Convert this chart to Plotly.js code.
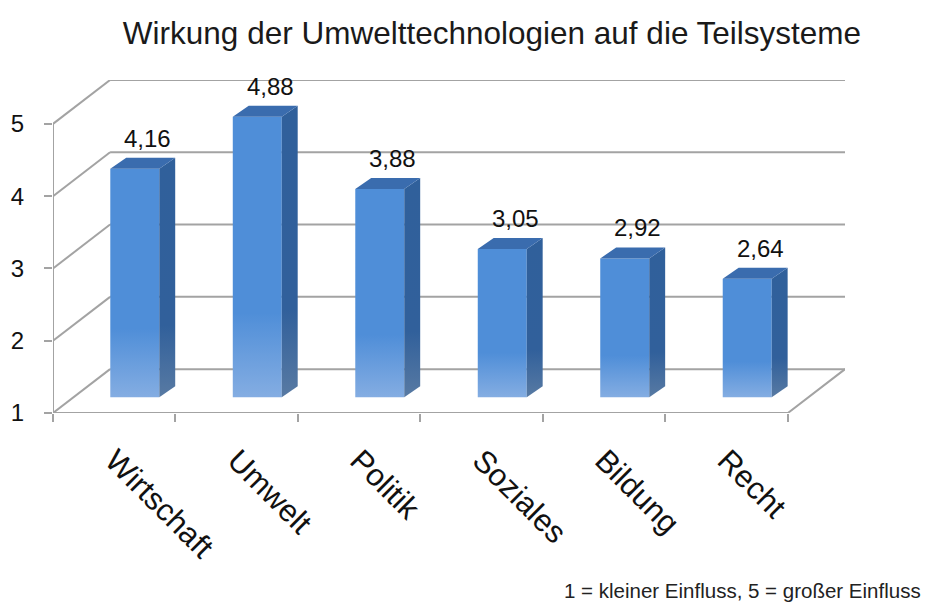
<!DOCTYPE html>
<html>
<head>
<meta charset="utf-8">
<script src="https://cdn.plot.ly/plotly-3.0.1.min.js"></script>
<style>html,body{margin:0;padding:0;background:#fff;}#chart{width:934px;height:604px;}</style>
</head>
<body>
<div id="chart"></div>
<script>
// ---- data ----
const categories = ["Wirtschaft", "Umwelt", "Politik", "Soziales", "Bildung", "Recht"];
const values = [4.16, 4.88, 3.88, 3.05, 2.92, 2.64];
const yTicks = [1, 2, 3, 4, 5];
const titleText = "Wirkung der Umwelttechnologien auf die Teilsysteme";
const noteText = "1 = kleiner Einfluss, 5 = großer Einfluss";

// ---- 3D projection settings (in axis units) ----
const WALL_DX = 0.466, WALL_DY = 0.607;   // depth of the whole chart box
const BAR_F = 0.36;                        // depth position of bar front face
const BAR_W = 0.40;                        // bar front width
const BAR_DX = 0.13, BAR_DY = 0.152;       // bar depth
const YMIN = 1, YMAX = 5;
const FONT = "Liberation Sans, Arial, sans-serif";
const gridColor = "#a3a3a3";

const traces = [];
// grid: back wall, left wall, floor
const gx = [], gy = [];
yTicks.forEach(v => {
  gx.push(WALL_DX, categories.length + WALL_DX, null);
  gy.push(v + WALL_DY, v + WALL_DY, null);
  gx.push(0, WALL_DX, null);
  gy.push(v, v + WALL_DY, null);
});
// floor front and right edge, front vertical axis
gx.push(0, categories.length, categories.length + WALL_DX, null, 0, 0);
gy.push(YMIN, YMIN, YMIN + WALL_DY, null, YMIN, YMAX);
traces.push({type: "scatter", mode: "lines", x: gx, y: gy, hoverinfo: "skip",
  line: {color: gridColor, width: 2}, showlegend: false});

// bars
const offX = BAR_F * WALL_DX, offY = BAR_F * WALL_DY;
const topX = [], topY = [];
const annotations = [];
values.forEach((v, i) => {
  const cx = i + 0.5 + offX;
  const xl = cx - BAR_W / 2, xr = cx + BAR_W / 2;
  const yb = YMIN + offY, yt = v + offY;
  // front face with gradient
  traces.push({type: "scatter", mode: "lines", x: [xl, xr, xr, xl, xl], y: [yb, yb, yt, yt, yb],
    fill: "toself", line: {width: 0, color: "rgba(0,0,0,0)"}, hoverinfo: "skip", showlegend: false,
    fillgradient: {type: "vertical", start: yb, stop: yt,
      colorscale: [[0, "#84ade2"], [0.3, "#4f8ed8"], [1, "#4f8ed8"]]}});
  // side face
  traces.push({type: "scatter", mode: "lines",
    x: [xr, xr + BAR_DX, xr + BAR_DX, xr, xr], y: [yb, yb + BAR_DY, yt + BAR_DY, yt, yb],
    fill: "toself", line: {width: 0, color: "rgba(0,0,0,0)"}, hoverinfo: "skip", showlegend: false,
    fillgradient: {type: "vertical", start: yb, stop: yt + BAR_DY,
      colorscale: [[0, "#587aa3"], [0.3, "#31609b"], [1, "#30609b"]]}});
  topX.push(xl, xr, xr + BAR_DX, xl + BAR_DX, xl, null);
  topY.push(yt, yt, yt + BAR_DY, yt + BAR_DY, yt, null);
  annotations.push({x: cx + BAR_DX / 2 + 0.04, y: yt + BAR_DY, xref: "x", yref: "y",
    text: v.toFixed(2).replace(".", ","), showarrow: false, yanchor: "bottom", yshift: 4,
    font: {family: FONT, size: 24, color: "#111"}});
});
traces.push({type: "scatter", mode: "lines", x: topX, y: topY, fill: "toself", fillcolor: "#3a6cae",
  line: {width: 0, color: "rgba(0,0,0,0)"}, hoverinfo: "skip", showlegend: false});

annotations.push({xref: "paper", yref: "paper", x: 1.098, y: -0.532, xanchor: "right", yanchor: "middle",
  text: noteText, showarrow: false, font: {family: FONT, size: 20.5, color: "#222"}});

const layout = {
  width: 934, height: 604,
  margin: {l: 53, r: 89, t: 80, b: 191},
  paper_bgcolor: "#fff", plot_bgcolor: "#fff",
  showlegend: false,
  title: {text: titleText, x: 492 / 934, xanchor: "center", xref: "container",
    y: 1 - 33 / 604, yanchor: "middle", yref: "container",
    font: {family: FONT, size: 31.5, color: "#1a1a1a"}},
  xaxis: {range: [0, categories.length + WALL_DX], showgrid: false, zeroline: false, showline: false,
    tickmode: "array", tickvals: categories.map((c, i) => i + 0.5), ticktext: categories,
    ticks: "", tickangle: 45, ticklabelstandoff: 22,
    tickfont: {family: FONT, size: 31, color: "#111"},
    minor: {tickmode: "array", tickvals: categories.map((c, i) => i).concat([categories.length]),
      ticks: "outside", ticklen: 8, tickwidth: 2, tickcolor: gridColor, showgrid: false},
    fixedrange: true},
  yaxis: {range: [YMIN, YMAX + WALL_DY], showgrid: false, zeroline: false, showline: false,
    tickmode: "array", tickvals: yTicks, ticktext: yTicks.map(String),
    ticks: "outside", ticklen: 8, tickwidth: 2, tickcolor: gridColor, ticklabelstandoff: 15,
    tickfont: {family: FONT, size: 24, color: "#111"}, fixedrange: true},
  annotations: annotations
};

Plotly.newPlot("chart", traces, layout, {displayModeBar: false, staticPlot: true});
</script>
</body>
</html>
